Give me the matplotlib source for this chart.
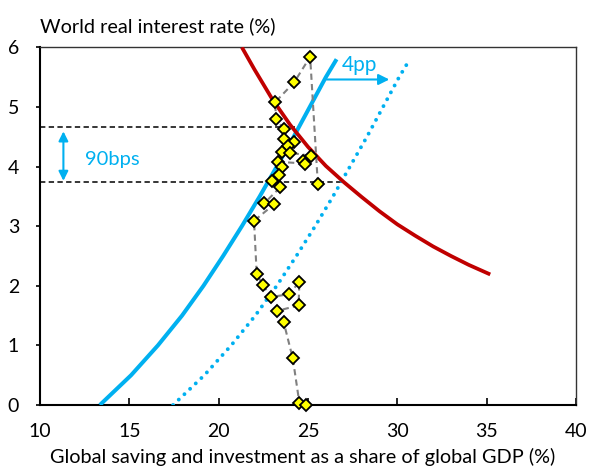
import matplotlib
matplotlib.use("Agg")
import matplotlib.pyplot as plt

# ---- data ----
# Solid blue curve (saving schedule): y = real rate, x = share of GDP
sav_y = [0.0, 0.5, 1.0, 1.5, 2.0, 2.5, 3.0, 3.5, 4.0, 4.5, 5.0, 5.5, 5.8]
sav_x = [13.35, 15.1, 16.6, 17.95, 19.15, 20.25, 21.3, 22.3, 23.25, 24.2, 25.1, 26.0, 26.6]
# Dotted blue curve (shifted saving schedule)
sav2_x = [17.45, 19.2, 20.7, 22.05, 23.25, 24.35, 25.4, 26.4, 27.35, 28.3, 29.2, 30.1, 30.7]
# Red curve (investment schedule)
inv_x = [21.3, 22.0, 23.0, 24.0, 25.0, 26.0, 27.0, 28.0, 29.0, 30.0, 31.0, 32.0, 33.0, 34.0, 35.2]
inv_y = [6.0, 5.63, 5.13, 4.70, 4.33, 4.01, 3.74, 3.49, 3.25, 3.03, 2.84, 2.66, 2.50, 2.35, 2.19]
# Observed points (yellow diamonds), in path order
obs_x = [25.55, 25.12, 24.22, 23.16, 23.21, 23.63, 23.68, 24.19, 23.90, 23.53, 24.00,
         25.16, 24.74, 24.84, 23.31, 23.53, 23.40, 22.97, 23.44, 22.54, 23.12, 21.98,
         22.13, 22.47, 22.92, 23.96, 24.52, 24.47, 23.29, 23.63, 24.15, 24.52, 24.89]
obs_y = [3.71, 5.84, 5.41, 5.08, 4.80, 4.63, 4.46, 4.41, 4.35, 4.24, 4.23,
         4.18, 4.10, 4.05, 4.08, 4.00, 3.86, 3.75, 3.65, 3.38, 3.37, 3.09,
         2.19, 2.02, 1.81, 1.86, 2.07, 1.67, 1.58, 1.40, 0.78, 0.03, 0.00]
# Equilibrium rate markers (dashed black lines)
eq_rate = [4.66, 3.74]
eq_end_x = [24.3, 26.9]
x_ticks = [10, 15, 20, 25, 30, 35, 40]
y_ticks = [0, 1, 2, 3, 4, 5, 6]

BLUE = "#00B0F0"
RED = "#C00000"
FONT = "Lato"
FS = 14

plt.rcParams["font.family"] = [FONT, "DejaVu Sans"]

fig = plt.figure(figsize=(5.91, 4.68), dpi=100)
ax = fig.add_axes([40 / 591, 63 / 468, 536 / 591, 357.7 / 468])

ax.set_xlim(10, 40)
ax.set_ylim(0, 6)

# dashed equilibrium lines
for r, xe in zip(eq_rate, eq_end_x):
    ax.plot([10, xe], [r, r], color="black", lw=1.1, dashes=(3.5, 2.2), zorder=2)

# curves
ax.plot(sav_x, sav_y, color=BLUE, lw=2.9, solid_capstyle="butt", zorder=3)
ax.plot(sav2_x, sav_y, color=BLUE, lw=2.8, dashes=(0.01, 2.0),
        dash_capstyle="round", zorder=3)
ax.plot(inv_x, inv_y, color=RED, lw=2.7, solid_capstyle="butt", zorder=3)

# observations
ax.plot(obs_x, obs_y, color="#808080", lw=1.5, dashes=(3, 2), zorder=4)
ax.plot(obs_x, obs_y, linestyle="none", marker="D", ms=6.4, mfc="#FFFF00",
        mec="black", mew=1.3, zorder=5, clip_on=False)

# annotations
ax.annotate("", xy=(11.31, 3.76), xytext=(11.31, 4.59),
            arrowprops=dict(arrowstyle="<|-|>", color=BLUE, lw=1.5,
                            mutation_scale=14, shrinkA=0, shrinkB=0))
ax.text(12.5, 4.12, "90bps", color=BLUE, fontsize=14.5, va="center", ha="left")

ax.annotate("", xy=(29.55, 5.46), xytext=(26.05, 5.46),
            arrowprops=dict(arrowstyle="-|>", color=BLUE, lw=1.5,
                            mutation_scale=16, shrinkA=0, shrinkB=0))
ax.text(27.9, 5.70, "4pp", color=BLUE, fontsize=15, va="center", ha="center")

# axes styling
ax.set_xticks(x_ticks)
ax.set_yticks(y_ticks)
ax.tick_params(axis="x", direction="in", length=5, width=1.2, labelsize=FS, pad=13)
ax.tick_params(axis="y", direction="out", length=3, width=1.2, labelsize=FS, pad=12)
for side in ["left", "bottom"]:
    ax.spines[side].set_linewidth(1.5)
    ax.spines[side].set_color("black")
for side in ["top", "right"]:
    ax.spines[side].set_linewidth(1.0)
    ax.spines[side].set_color("#333333")

fig.text(40 / 591, 1 - 32 / 468, "World real interest rate (%)", fontsize=FS + 0.3,
         ha="left", va="baseline")
fig.text(303 / 591, 5 / 468, "Global saving and investment as a share of global GDP (%)",
         fontsize=FS + 0.3, ha="center", va="baseline")

fig.savefig("out.png", dpi=100)
